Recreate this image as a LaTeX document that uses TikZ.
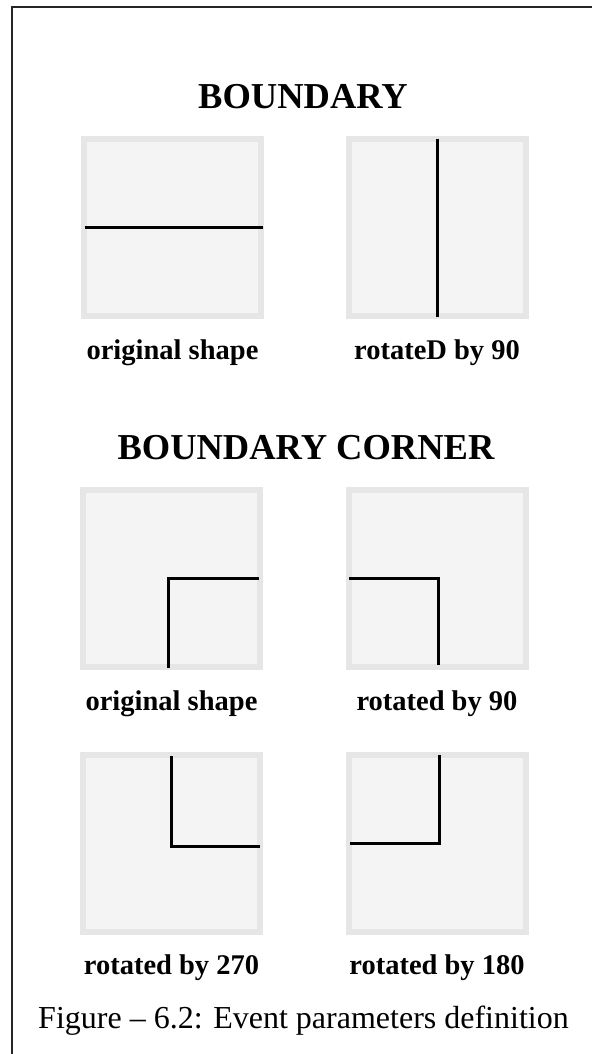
\documentclass[tikz,border=0pt]{standalone}
\usepackage{fontspec}
\setmainfont{Liberation Serif}
\usetikzlibrary{positioning}
\definecolor{PanelFill}{HTML}{F4F4F4}
\definecolor{PanelEdge}{HTML}{E6E6E6}

\begin{document}
\begin{tikzpicture}[
      x=1pt,y=-1pt,
      panel/.style={rectangle,draw=PanelEdge,line width=6pt,fill=PanelFill,minimum size=177pt,inner sep=0pt},
      wall/.style={line width=3pt,black,line cap=butt,line join=miter},
      tag/.style={font=\fontsize{28.5}{32}\selectfont\bfseries,inner sep=0pt,text height=20pt,text depth=7pt},
      heading/.style={font=\fontsize{36.5}{40}\selectfont\bfseries,anchor=base,inner sep=0pt}
    ]
      \useasboundingbox (0,0) rectangle (592,1054);
      \draw[line width=1.6pt,black!85] (12,1054) -- (12,7) -- (592,7);
      % boundary
      \node[heading] (hb) at (303,109) {BOUNDARY};
      \node[panel] (b1) at (172.5,227.5) {};
      \node[panel] (b2) at (437,227.5) {};
      \draw[wall] ([xshift=-88pt]b1.center) -- ([xshift=90pt]b1.center);
      \draw[wall] ([yshift=89pt]b2.center) -- ([yshift=-89pt]b2.center);
      \node[tag,below=20pt of b1] (t1) {original shape};
      \node[tag,below=20pt of b2] (t2) {rotateD by 90};
      % boundary corner
      \node[heading] (hc) at (306,459) {BOUNDARY CORNER};
      \node[panel] (b3) at (171.5,578.5) {};
      \node[panel] (b4) at (437,578.5) {};
      \node[panel] (b5) at (171.5,843) {};
      \node[panel] (b6) at (437,843) {};
      \draw[wall] (b3.center) ++(87,0) -- ++(-90,0) -- ++(0,89);
      \draw[wall] (b4.center) ++(-88,0) -- ++(89,0) -- ++(0,86);
      \draw[wall] (b5.center) ++(0,-87) -- ++(0,90) -- ++(88,0);
      \draw[wall] (b6.center) ++(-87,0) -- ++(89,0) -- ++(0,-88);
      \node[tag,below=20pt of b3] (t3) {original shape};
      \node[tag,below=20pt of b4] (t4) {rotated by 90};
      \node[tag,below=20pt of b5] (t5) {rotated by 270};
      \node[tag,below=20pt of b6] (t6) {rotated by 180};
      \node[font=\fontsize{32}{36}\selectfont,anchor=base,inner sep=0pt] (fig) at (303.5,1028) {Figure – 6.2: Event parameters definition};
    \end{tikzpicture}
\end{document}
